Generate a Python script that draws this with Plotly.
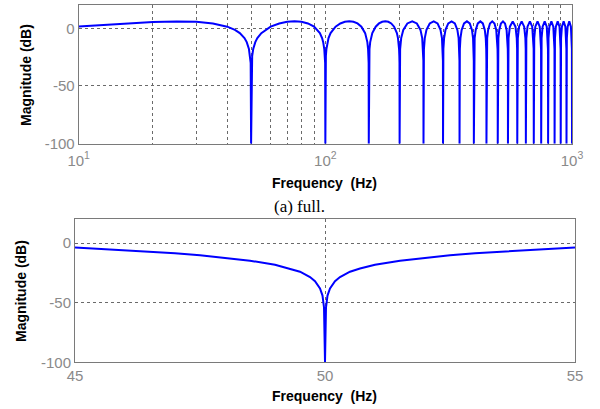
import plotly.graph_objects as go

# ---------------- data ----------------
# top panel: magnitude response, 10 Hz .. 1000 Hz (log axis)
freq_full = [
    10, 12, 15, 20, 25, 30, 35, 40, 43, 45, 47, 48, 49, 49.5, 49.8, 50,
    50.2, 50.5, 51, 52, 53, 55, 60, 65, 70, 75, 80, 85, 90, 95, 97, 98, 99, 99.5, 99.8, 100,
    100.2, 100.5, 101, 102, 103, 105, 110, 115, 120, 125, 130, 135, 140, 145, 147, 148, 149, 149.5, 149.8, 150,
    150.2, 150.5, 151, 152, 153, 155, 160, 165, 170, 175, 180, 185, 190, 195, 197, 198, 199, 199.5, 199.8, 200,
    200.3, 201, 203, 207, 215, 225, 235, 243, 247, 249, 249.7, 250,
    250.3, 251, 253, 257, 265, 275, 285, 293, 297, 299, 299.7, 300,
    300.3, 301, 303, 307, 315, 325, 335, 343, 347, 349, 349.7, 350,
    350.3, 351, 353, 357, 365, 375, 385, 393, 397, 399, 399.7, 400,
    400.3, 401, 403, 407, 415, 425, 435, 443, 447, 449, 449.7, 450,
    450.3, 451, 453, 457, 465, 475, 485, 493, 497, 499, 499.7, 500,
    500.3, 501, 503, 507, 515, 525, 535, 543, 547, 549, 549.7, 550,
    551, 553, 560, 575, 590, 597, 599, 600,
    601, 603, 610, 625, 640, 647, 649, 650,
    651, 653, 660, 675, 690, 697, 699, 700,
    701, 703, 710, 725, 740, 747, 749, 750,
    751, 753, 760, 775, 790, 797, 799, 800,
    801, 803, 810, 825, 840, 847, 849, 850,
    851, 853, 860, 875, 890, 897, 899, 900,
    901, 903, 910, 925, 940, 947, 949, 950,
    951, 953, 960, 975, 990, 997, 999, 1000,
]
mag_full = [
    1.6, 2.7, 4.2, 5.4, 5.8, 5.6, 4.2, 1.4, -1.4, -4.2, -8.5, -12, -18, -24, -30, -100,
    -30, -24, -18, -12, -8.5, -4.2, 1.4, 4.2, 5.6, 6.0, 5.6, 4.2, 1.4, -4.2, -8.5, -12, -18, -24, -30, -100,
    -30, -24, -18, -12, -8.5, -4.2, 1.4, 4.2, 5.6, 6.0, 5.6, 4.2, 1.4, -4.2, -8.5, -12, -18, -24, -30, -100,
    -30, -24, -18, -12, -8.5, -4.2, 1.4, 4.2, 5.6, 6.0, 5.6, 4.2, 1.4, -4.2, -8.5, -12, -18, -24, -30, -100,
    -28, -18, -8.5, -1.4, 4.2, 6.0, 4.2, -1.4, -8.5, -18, -28, -100,
    -28, -18, -8.5, -1.4, 4.2, 6.0, 4.2, -1.4, -8.5, -18, -28, -100,
    -28, -18, -8.5, -1.4, 4.2, 6.0, 4.2, -1.4, -8.5, -18, -28, -100,
    -28, -18, -8.5, -1.4, 4.2, 6.0, 4.2, -1.4, -8.5, -18, -28, -100,
    -28, -18, -8.5, -1.4, 4.2, 6.0, 4.2, -1.4, -8.5, -18, -28, -100,
    -28, -18, -8.5, -1.4, 4.2, 6.0, 4.2, -1.4, -8.5, -18, -28, -100,
    -28, -18, -8.5, -1.4, 4.2, 6.0, 4.2, -1.4, -8.5, -18, -28, -100,
    -18, -8.5, 1.4, 6.0, 1.4, -8.5, -18, -100,
    -18, -8.5, 1.4, 6.0, 1.4, -8.5, -18, -100,
    -18, -8.5, 1.4, 6.0, 1.4, -8.5, -18, -100,
    -18, -8.5, 1.4, 6.0, 1.4, -8.5, -18, -100,
    -18, -8.5, 1.4, 6.0, 1.4, -8.5, -18, -100,
    -18, -8.5, 1.4, 6.0, 1.4, -8.5, -18, -100,
    -18, -8.5, 1.4, 6.0, 1.4, -8.5, -18, -100,
    -18, -8.5, 1.4, 6.0, 1.4, -8.5, -18, -100,
    -18, -8.5, 1.4, 6.0, 1.4, -8.5, -18, -100,
]

# bottom panel: zoom around the 50 Hz notch
freq_zoom = [45, 46, 47, 47.5, 48, 48.5, 49, 49.3, 49.5, 49.7, 49.8, 49.9, 49.95, 49.98, 50,
             50.02, 50.05, 50.1, 50.2, 50.3, 50.5, 50.7, 51, 51.5, 52, 52.5, 53, 54, 55]
mag_zoom = [-3.6, -5.8, -8.4, -10.2, -12.2, -14.7, -18.2, -21.3, -24, -28.5, -32, -38, -44, -54, -100,
            -54, -44, -38, -32, -28.5, -24, -21.3, -18.2, -14.7, -12.2, -10.2, -8.4, -5.8, -3.6]

# tick labels
full_tickvals = [10, 100, 1000]
full_ticktext = ["10<sup>1</sup>", "10<sup>2</sup>", "10<sup>3</sup>"]
full_minor = [20, 30, 40, 50, 60, 70, 80, 90, 200, 300, 400, 500, 600, 700, 800, 900]
zoom_tickvals = [45, 50, 55]
zoom_ticktext = ["45", "50", "55"]
mag_tickvals = [0, -50, -100]
mag_ticktext = ["0", "-50", "-100"]

# ---------------- figure ----------------
W, H = 600, 409
BLUE = "#0000ff"
GRID = "#6a6a6a"
FRAME = "#7a7a7a"
TICKC = "#8a8a8a"
SANS = "Liberation Sans, Arial, sans-serif"

fig = go.Figure()
fig.add_trace(go.Scatter(x=freq_full, y=mag_full, mode="lines",
                         line=dict(color=BLUE, width=2), xaxis="x", yaxis="y",
                         showlegend=False, hoverinfo="skip"))
fig.add_trace(go.Scatter(x=freq_zoom, y=mag_zoom, mode="lines",
                         line=dict(color=BLUE, width=2), xaxis="x2", yaxis="y2",
                         showlegend=False, hoverinfo="skip"))

def px_x(a, b):
    return [a / W, b / W]

def px_y(top, bottom):
    return [1 - bottom / H, 1 - top / H]

common = dict(showline=True, mirror=True, linecolor=FRAME, linewidth=1,
              gridcolor=GRID, griddash="3px,3px", gridwidth=1, zeroline=False,
              automargin=False,
              ticks="", tickfont=dict(family=SANS, size=15, color=TICKC))

fig.update_layout(
    width=W, height=H, margin=dict(l=0, r=0, t=0, b=0, autoexpand=False),
    paper_bgcolor="white", plot_bgcolor="white",
    xaxis=dict(type="log", domain=px_x(78.7, 572), range=[1, 3], anchor="y",
               tickmode="array", tickvals=full_tickvals, ticktext=full_ticktext,
               showgrid=True, ticklabelstandoff=3,
               minor=dict(tickmode="array", tickvals=full_minor, showgrid=True,
                          gridcolor=GRID, griddash="3px,3px", gridwidth=1, ticks=""),
               **common),
    yaxis=dict(domain=px_y(5.2, 143.7), range=[-100, 20], anchor="x",
               tickmode="array", tickvals=mag_tickvals, ticktext=mag_ticktext,
               showgrid=True, **common),
    xaxis2=dict(domain=px_x(75, 575), range=[45, 55], anchor="y2",
                tickmode="array", tickvals=zoom_tickvals, ticktext=zoom_ticktext,
                showgrid=True, **common),
    yaxis2=dict(domain=px_y(219.3, 362.3), range=[-100, 20], anchor="x2",
                tickmode="array", tickvals=mag_tickvals, ticktext=mag_ticktext,
                showgrid=True, **common),
)

title_font = dict(family=SANS, size=14, color="black")
ann = [
    dict(text="<b>Frequency  (Hz)</b>", x=324 / W, y=1 - 183 / H, font=title_font),
    dict(text="<b>Magnitude (dB)</b>", x=26 / W, y=1 - 75 / H, font=title_font, textangle=-90),
    dict(text="(a) full.", x=299 / W, y=1 - 207 / H,
         font=dict(family="Liberation Serif, Times New Roman, serif", size=17, color="black")),
    dict(text="<b>Frequency  (Hz)</b>", x=324 / W, y=1 - 396 / H, font=title_font),
    dict(text="<b>Magnitude (dB)</b>", x=21 / W, y=1 - 291 / H, font=title_font, textangle=-90),
]
for a in ann:
    a.update(xref="paper", yref="paper", showarrow=False, xanchor="center", yanchor="middle")
fig.update_layout(annotations=ann)

fig.write_html("out.html", config={"displayModeBar": False},
               post_script="document.body.style.margin='0';document.body.style.overflow='hidden';")
